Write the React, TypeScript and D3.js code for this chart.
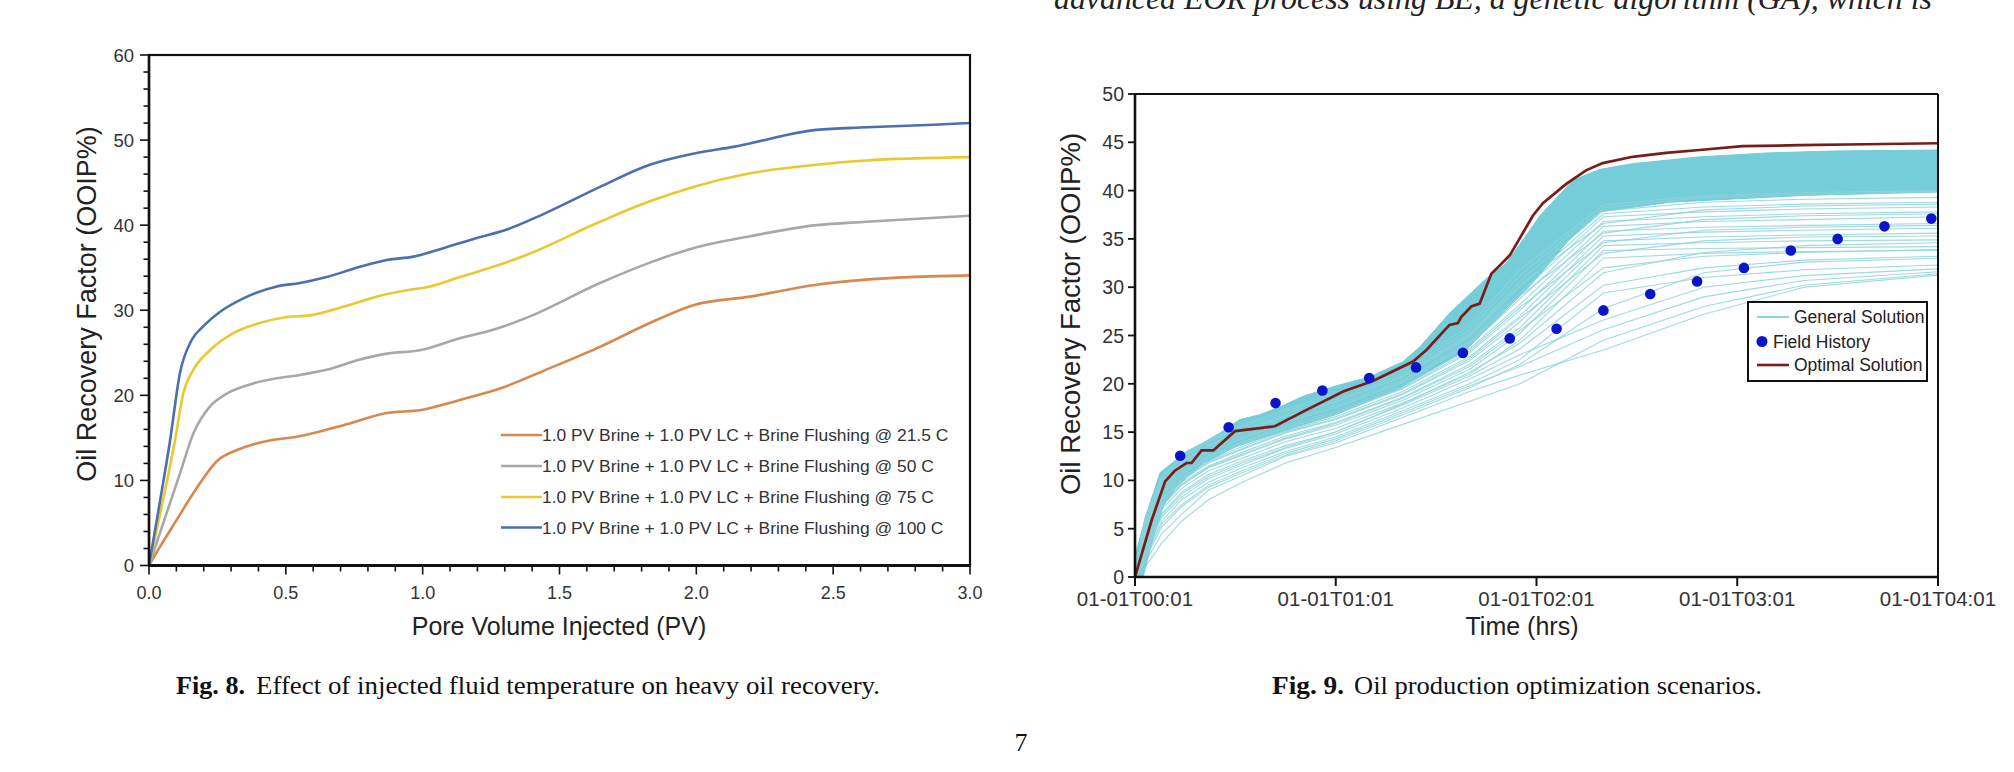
import React from 'react';
import * as d3 from 'd3';

// ---------- Fig. 8 data (PV injected, recovery %) ----------
const fig8Labels = [
  '1.0 PV Brine + 1.0 PV LC + Brine Flushing @ 21.5 C',
  '1.0 PV Brine + 1.0 PV LC + Brine Flushing @ 50 C',
  '1.0 PV Brine + 1.0 PV LC + Brine Flushing @ 75 C',
  '1.0 PV Brine + 1.0 PV LC + Brine Flushing @ 100 C',
];
const fig8Colors = ['#d9874f', '#a8a8a8', '#ebc730', '#4b6faf'];
const temp215: [number, number][] = [[0,0],[0.042,2.3],[0.1,5.3],[0.16,8.4],[0.253,12.4],[0.324,13.6],[0.441,14.7],[0.535,15.1],[0.723,16.6],[0.864,17.9],[1.0,18.3],[1.13,19.4],[1.282,20.8],[1.465,23.2],[1.648,25.7],[1.83,28.5],[1.989,30.6],[2.196,31.6],[2.439,33.0],[2.62,33.6],[3.0,34.1]];
const temp50: [number, number][] = [[0,0],[0.113,10.8],[0.162,15.5],[0.223,18.7],[0.284,20.2],[0.381,21.4],[0.467,22.0],[0.552,22.4],[0.649,23.0],[0.771,24.2],[0.869,24.9],[0.99,25.3],[1.136,26.7],[1.257,27.7],[1.379,29.1],[1.648,33.2],[1.83,35.6],[1.989,37.3],[2.196,38.7],[2.439,40.0],[2.62,40.4],[3.0,41.1]];
const temp75: [number, number][] = [[0,0],[0.05,7.5],[0.095,14.7],[0.125,20.2],[0.162,23.0],[0.223,25.3],[0.308,27.3],[0.405,28.5],[0.503,29.2],[0.588,29.4],[0.71,30.4],[0.831,31.6],[0.953,32.4],[1.014,32.7],[1.136,33.9],[1.257,35.1],[1.379,36.5],[1.648,40.4],[1.83,42.8],[1.989,44.5],[2.196,46.1],[2.439,47.1],[2.62,47.6],[3.0,48.0]];
const temp100: [number, number][] = [[0,0],[0.04,7.5],[0.077,14.7],[0.113,22.6],[0.156,26.5],[0.198,28.1],[0.259,29.8],[0.345,31.4],[0.467,32.8],[0.552,33.2],[0.649,33.9],[0.771,35.1],[0.869,35.9],[0.966,36.3],[1.076,37.3],[1.198,38.5],[1.3,39.4],[1.441,41.3],[1.648,44.5],[1.83,47.1],[1.989,48.4],[2.135,49.2],[2.439,51.2],[2.622,51.5],[2.866,51.8],[3.0,52.0]];
const fig8Series = [temp215, temp50, temp75, temp100];
const fig8XTicks = [0, 0.5, 1.0, 1.5, 2.0, 2.5, 3.0];
const fig8YTicks = [0, 10, 20, 30, 40, 50, 60];

// ---------- Fig. 9 data (minutes after 00:01, recovery %) ----------
const fig9TickMinutes = [0, 60, 120, 180, 240];
const fig9TickLabels = ['01-01T00:01', '01-01T01:01', '01-01T02:01', '01-01T03:01', '01-01T04:01'];
const fig9YTicks = [0, 5, 10, 15, 20, 25, 30, 35, 40, 45, 50];

const bandTop: [number, number][] = [[0,0],[0.5,2.8],[3.5,6.6],[7.5,10.8],[10.4,11.6],[15.4,13.0],[20.4,13.9],[25.4,14.9],[31.3,16.3],[37.3,16.8],[43.3,17.6],[50.2,18.7],[60.2,19.8],[70.1,20.7],[80.1,22.3],[85.1,23.8],[94,27.3],[105,30.9],[111,32.5],[118,35.9],[121,37.4],[131,41.1],[139,42.2],[149,42.8],[169,43.5],[189,43.9],[209,44.1],[240,44.2]];
const bandBottom: [number, number][] = [[0,0],[2.4,0],[5.4,4.0],[8.4,7.3],[12.5,9.4],[20.4,11.8],[30.3,13.5],[45,15.2],[60,16.8],[79,19.5],[99,23.5],[109,27.0],[119,30.5],[130,35.0],[139,37.8],[160,38.8],[200,39.5],[240,39.85]];

const genTimes = [0, 3, 8, 14, 22, 32, 45, 60, 80, 100, 115, 140, 170, 200, 240];
const genLines: number[][] = [
  [0,1.5,4.5,6.5,9.0,10.5,12.5,13.9,16.5,19.2,20.9,23.5,27.2,30.0,31.25],
  [0,2.0,5.5,7.5,9.5,11.0,12.8,14.3,17.0,19.8,21.8,25.6,29.0,30.7,31.6],
  [0,2.5,6.2,8.3,10.2,11.6,13.3,14.8,17.5,20.5,23.0,26.6,30.0,31.2,31.9],
  [0,2.2,5.8,8.0,9.8,11.3,13.0,14.5,17.2,20.0,22.5,29.4,31.0,31.8,32.3],
  [0,3.0,7.0,9.2,11.0,12.3,14.0,15.4,18.0,21.0,24.5,33.0,33.5,33.7,33.8],
  [0,3.2,7.3,9.5,11.3,12.6,14.3,15.7,18.3,21.5,25.2,33.8,34.0,34.1,34.2],
  [0,3.5,7.6,9.8,11.5,12.9,14.6,16.0,18.6,22.0,25.8,34.3,34.6,34.8,34.9],
  [0,3.7,7.9,10.0,11.8,13.2,14.9,16.3,18.9,22.4,26.4,34.8,35.2,35.4,35.6],
  [0,4.0,8.2,10.3,12.0,13.5,15.1,16.6,19.2,22.8,27.0,35.3,35.7,35.9,36.1],
  [0,4.2,8.5,10.6,12.3,13.8,15.4,16.9,19.5,23.2,27.6,35.8,36.2,36.4,36.6],
  [0,4.5,8.8,10.9,12.6,14.0,15.7,17.2,19.8,23.6,28.2,36.3,36.8,37.0,37.3],
  [0,4.8,9.0,11.2,12.9,14.3,16.0,17.5,20.1,24.0,28.8,36.8,37.3,37.6,37.8],
  [0,5.0,9.3,11.5,13.2,14.6,16.3,17.8,20.4,24.4,29.4,37.3,37.8,38.1,38.3],
  [0,5.3,9.6,11.8,13.5,14.9,16.6,18.1,20.7,24.8,30.0,37.6,38.3,38.6,38.8],
  [0,5.6,9.9,12.0,13.7,15.2,16.9,18.4,21.0,25.2,30.6,37.9,38.8,39.1,39.3],
  [0,6.0,10.2,12.3,14.0,15.5,17.2,18.7,21.3,25.6,31.2,38.2,39.3,39.6,39.9],
  [0,1.0,3.5,5.8,8.0,9.8,11.8,13.4,15.8,18.2,20.0,24.5,28.0,30.2,31.4],
  [0,2.8,6.6,8.8,10.6,12.0,13.6,15.0,17.8,20.8,23.6,30.2,32.0,32.8,33.2],
  [0,3.3,7.4,9.6,11.4,12.7,14.4,15.9,18.5,21.8,25.5,32.0,33.2,33.6,33.9],
  [0,3.9,8.0,10.1,11.9,13.3,15.0,16.4,19.0,22.6,26.8,33.5,34.8,35.2,35.3],
  [0,4.4,8.6,10.7,12.4,13.9,15.5,17.0,19.6,23.4,27.9,34.6,35.9,36.2,36.4],
  [0,4.9,9.1,11.3,13.0,14.4,16.1,17.6,20.2,24.2,29.1,35.6,37.0,37.4,37.6],
  [0,5.4,9.7,11.9,13.6,15.0,16.7,18.2,20.8,25.0,30.3,36.6,38.0,38.4,38.6],
  [0,2.6,6.4,8.6,10.4,11.8,13.4,15.0,17.9,21.2,24.2,31.5,33.6,34.3,34.6],
  [0,1.8,5.2,7.3,9.3,10.8,12.6,14.1,16.8,19.6,22.0,27.8,31.5,32.6,33.0],
  [0,6.2,10.4,12.5,14.2,15.7,17.4,19.0,21.6,26.0,31.8,38.5,39.5,39.8,40.0],
];

const optimal: [number, number][] = [[0,0],[5,5.9],[9,9.9],[11.9,11.0],[15.4,11.8],[16.9,11.8],[19.9,13.1],[23.4,13.1],[29.9,15.1],[41.8,15.6],[51.3,17.3],[62.2,19.2],[71.1,20.3],[83.1,22.3],[87.1,23.5],[94,26.1],[96.5,26.3],[97.5,26.9],[100.5,28.0],[103,28.3],[106.5,31.4],[108,31.9],[112,33.3],[114.9,35.0],[118.9,37.4],[121.9,38.7],[128.9,40.7],[134.8,42.1],[139.8,42.85],[148.7,43.5],[158.7,43.9],[168.7,44.2],[181.6,44.6],[198.5,44.7],[218.4,44.8],[240,44.9]];

const historyMinutes = [13.5, 28, 42, 56, 70, 84, 98, 112, 126, 140, 154, 168, 182, 196, 210, 224, 238];
const historyValues = [12.55, 15.5, 18.0, 19.3, 20.6, 21.7, 23.2, 24.7, 25.7, 27.6, 29.3, 30.6, 32.0, 33.8, 35.0, 36.3, 37.1];

const SANS = '"Liberation Sans", Arial, sans-serif';
const SERIF = '"Liberation Serif", "Times New Roman", serif';
const TEAL_BAND = '#74cdd8';
const TEAL_LINE = '#8ed4dc';
const DARK_RED = '#7a1c18';
const DOT_BLUE = '#0a14c8';

function Fig8() {
  const x = d3.scaleLinear().domain([0, 3]).range([149, 970]);
  const y = d3.scaleLinear().domain([0, 60]).range([565.5, 55]);
  const line = d3.line<[number, number]>().x(d => x(d[0])).y(d => y(d[1])).curve(d3.curveMonotoneX);
  const minorX = d3.range(0, 31).map(i => i / 10);
  const minorY = d3.range(0, 31).map(i => i * 2);
  const legendRows = [435, 466, 497, 527.5];
  return (
    <g>
      {fig8Series.map((s, i) => (
        <path key={i} d={line(s) || ''} fill="none" stroke={fig8Colors[i]} strokeWidth={2.6} />
      ))}
      <rect x={149} y={55} width={821} height={510.5} fill="none" stroke="#111" strokeWidth={2.2} />
      <line x1={149} x2={970} y1={565.5} y2={565.5} stroke="#111" strokeWidth={3} />
      <line x1={149} x2={149} y1={55} y2={565.5} stroke="#111" strokeWidth={2.5} />
      {minorX.map((v, i) => {
        const major = i % 5 === 0;
        return <line key={'mx' + i} x1={x(v)} x2={x(v)} y1={565.5} y2={565.5 + (major ? 9 : 6)} stroke="#111" strokeWidth={1.6} />;
      })}
      {minorY.map((v, i) => {
        const major = i % 5 === 0;
        return <line key={'my' + i} x1={149} x2={149 - (major ? 9 : 5.5)} y1={y(v)} y2={y(v)} stroke="#111" strokeWidth={1.6} />;
      })}
      {fig8XTicks.map(v => (
        <text key={'xt' + v} x={x(v)} y={599} textAnchor="middle" fontFamily={SANS} fontSize={18} fill="#333">{v.toFixed(1)}</text>
      ))}
      {fig8YTicks.map(v => (
        <text key={'yt' + v} x={134} y={y(v) + 6.5} textAnchor="end" fontFamily={SANS} fontSize={18.5} fill="#333">{v}</text>
      ))}
      <text x={559} y={635} textAnchor="middle" fontFamily={SANS} fontSize={25} fill="#222">Pore Volume Injected (PV)</text>
      <text transform="translate(96,304) rotate(-90)" textAnchor="middle" fontFamily={SANS} fontSize={27} fill="#222">Oil Recovery Factor (OOIP%)</text>
      {fig8Labels.map((lab, i) => (
        <g key={'lg' + i}>
          <line x1={501} x2={542} y1={legendRows[i]} y2={legendRows[i]} stroke={fig8Colors[i]} strokeWidth={2.6} />
          <text x={542} y={legendRows[i] + 6} fontFamily={SANS} fontSize={17.4} fill="#333">{lab}</text>
        </g>
      ))}
    </g>
  );
}

function Fig9() {
  const x = d3.scaleLinear().domain([0, 240]).range([1135, 1938]);
  const y = d3.scaleLinear().domain([0, 50]).range([577, 94]);
  const line = d3.line<[number, number]>().x(d => x(d[0])).y(d => y(d[1]));
  const topFn = d3.scaleLinear().domain(bandTop.map(d => d[0])).range(bandTop.map(d => d[1]));
  const botFn = d3.scaleLinear().domain(bandBottom.map(d => d[0])).range(bandBottom.map(d => d[1]));
  const allT = Array.from(new Set([...bandTop.map(d => d[0]), ...bandBottom.map(d => d[0])])).sort((a, b) => a - b);
  const area = d3.area<number>().x(t => x(t)).y0(t => y(botFn(t))).y1(t => y(topFn(t)));
  return (
    <g>
      <defs>
        <clipPath id="plot9"><rect x={1135} y={94} width={803} height={483} /></clipPath>
      </defs>
      <g clipPath="url(#plot9)">
        <path d={area(allT) || ''} fill={TEAL_BAND} stroke={TEAL_BAND} strokeWidth={1} />
        {genLines.map((vals, i) => (
          <path key={'gl' + i} d={line(genTimes.map((t, j) => [t, vals[j]] as [number, number])) || ''} fill="none" stroke={TEAL_LINE} strokeOpacity={0.85} strokeWidth={1.1} />
        ))}
        <path d={line(optimal) || ''} fill="none" stroke={DARK_RED} strokeWidth={2.7} />
      </g>
      {historyMinutes.map((t, i) => (
        <circle key={'h' + i} cx={x(t)} cy={y(historyValues[i])} r={5.3} fill={DOT_BLUE} />
      ))}
      <line x1={1135} x2={1938} y1={94} y2={94} stroke="#111" strokeWidth={2} />
      <line x1={1938} x2={1938} y1={94} y2={577} stroke="#111" strokeWidth={2} />
      <line x1={1135} x2={1938} y1={577} y2={577} stroke="#111" strokeWidth={2.6} />
      <line x1={1135} x2={1135} y1={94} y2={577} stroke="#111" strokeWidth={2.6} />
      {fig9TickMinutes.map((t, i) => (
        <g key={'xt' + i}>
          <line x1={x(t)} x2={x(t)} y1={577} y2={586} stroke="#111" strokeWidth={2} />
          <text x={x(t)} y={606} textAnchor="middle" fontFamily={SANS} fontSize={20.5} fill="#333">{fig9TickLabels[i]}</text>
        </g>
      ))}
      {fig9YTicks.map(v => (
        <g key={'yt' + v}>
          <line x1={1135} x2={1128} y1={y(v)} y2={y(v)} stroke="#111" strokeWidth={1.8} />
          <text x={1124} y={y(v) + 7} textAnchor="end" fontFamily={SANS} fontSize={19.5} fill="#333">{v}</text>
        </g>
      ))}
      <text x={1522} y={635} textAnchor="middle" fontFamily={SANS} fontSize={25} fill="#222">Time (hrs)</text>
      <text transform="translate(1080,314) rotate(-90)" textAnchor="middle" fontFamily={SANS} fontSize={27.5} fill="#222">Oil Recovery Factor (OOIP%)</text>
      <rect x={1748} y={302} width={179} height={79} fill="#fff" stroke="#111" strokeWidth={2} />
      <line x1={1757} x2={1789} y1={317} y2={317} stroke={TEAL_LINE} strokeWidth={2} />
      <text x={1794} y={323} fontFamily={SANS} fontSize={17.5} fill="#222">General Solution</text>
      <circle cx={1762} cy={341.5} r={5.5} fill={DOT_BLUE} />
      <text x={1773} y={348} fontFamily={SANS} fontSize={17.5} fill="#222">Field History</text>
      <line x1={1757} x2={1789} y1={365} y2={365} stroke={DARK_RED} strokeWidth={2.6} />
      <text x={1794} y={371} fontFamily={SANS} fontSize={17.5} fill="#222">Optimal Solution</text>
    </g>
  );
}

export default function App() {
  return (
    <svg width={2014} height={772} style={{ position: 'absolute', left: 0, top: 0, background: '#fff' }}>
      <rect x={0} y={0} width={2014} height={772} fill="#fff" />
      <text x={1054} y={9} fontFamily={SERIF} fontSize={31} fontStyle="italic" fill="#222" textLength={878} lengthAdjust="spacingAndGlyphs">advanced EOR process using BE, a genetic algorithm (GA), which is</text>
      <Fig8 />
      <Fig9 />
      <text x={176} y={694} fontFamily={SERIF} fontSize={26} fontWeight="bold" fill="#111" textLength={69} lengthAdjust="spacingAndGlyphs">Fig. 8.</text>
      <text x={256} y={694} fontFamily={SERIF} fontSize={26} fill="#111" textLength={624} lengthAdjust="spacingAndGlyphs">Effect of injected fluid temperature on heavy oil recovery.</text>
      <text x={1272} y={694} fontFamily={SERIF} fontSize={26} fontWeight="bold" fill="#111" textLength={72} lengthAdjust="spacingAndGlyphs">Fig. 9.</text>
      <text x={1354} y={694} fontFamily={SERIF} fontSize={26} fill="#111" textLength={408} lengthAdjust="spacingAndGlyphs">Oil production optimization scenarios.</text>
      <text x={1021} y={751} textAnchor="middle" fontFamily={SERIF} fontSize={26} fill="#111">7</text>
    </svg>
  );
}
